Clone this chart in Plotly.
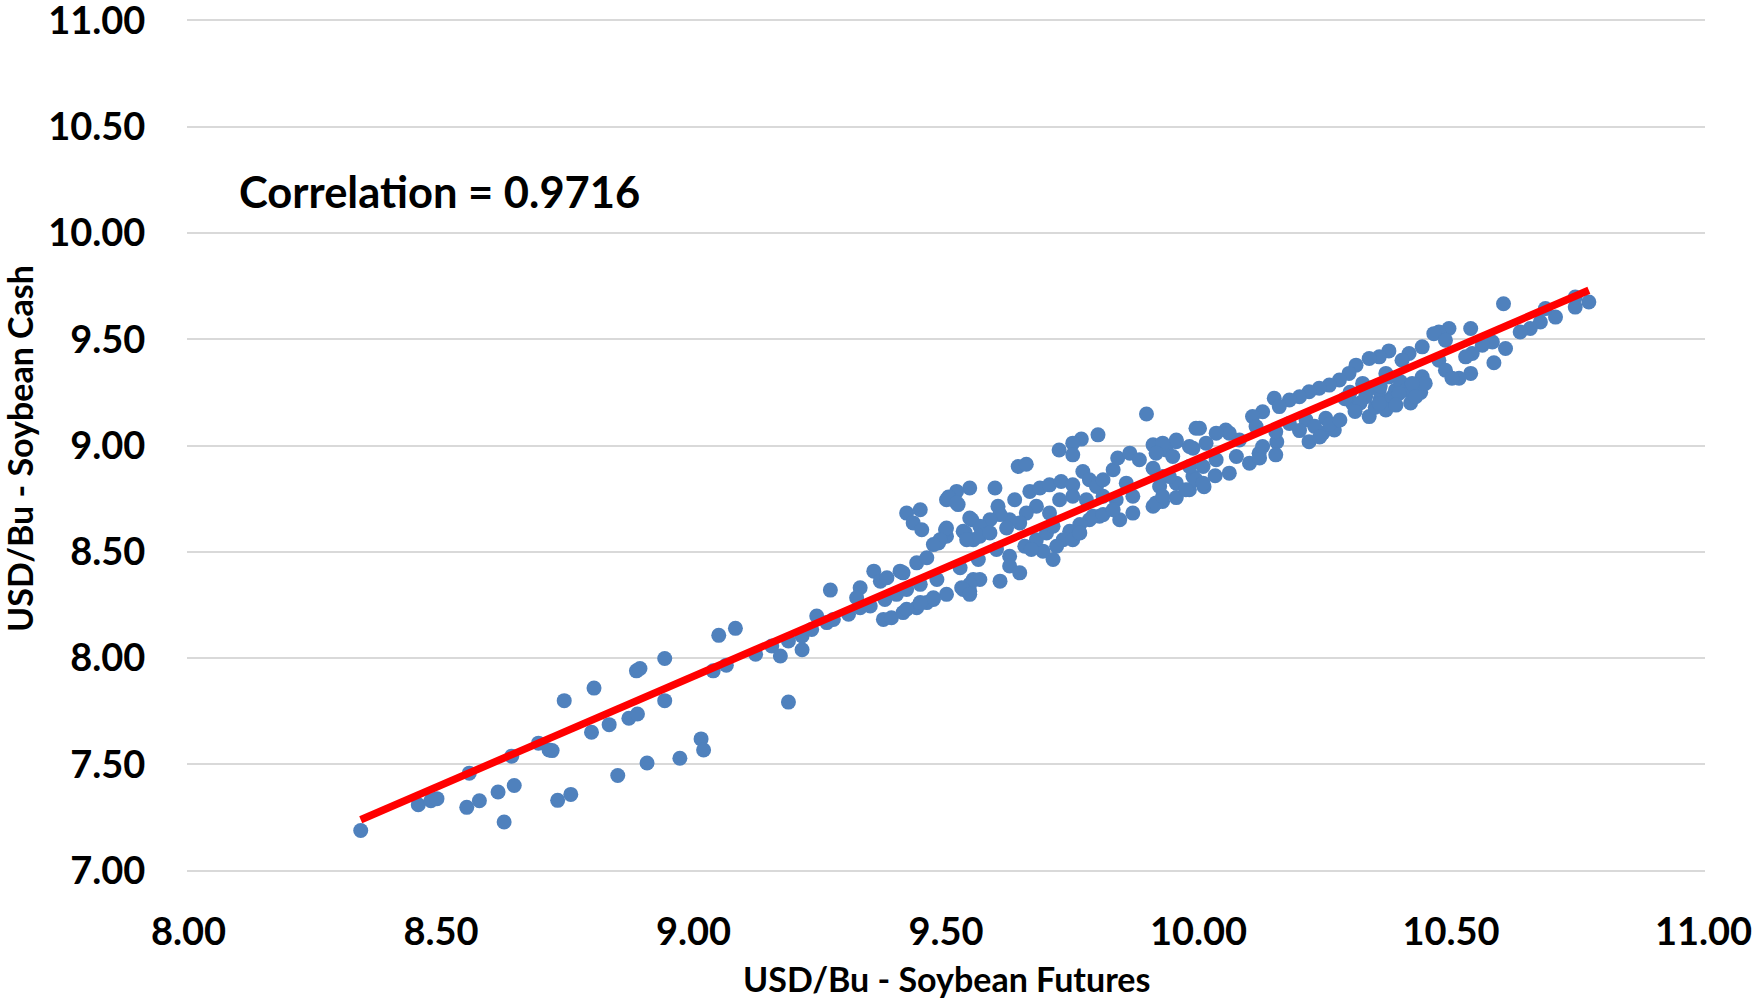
import numpy as np
import plotly.graph_objects as go

# USD/Bu - Soybean Futures (x) and Soybean Cash (y)
futures = [
    8.341, 8.455, 8.480, 8.492, 8.551, 8.556, 8.576, 8.613, 8.625, 8.640, 8.645, 8.693, 8.714, 8.720,
    8.731, 8.744, 8.757, 8.798, 8.803, 8.833, 8.850, 8.872, 8.889, 8.887, 8.894, 8.908, 8.943, 8.943,
    8.973, 9.015, 9.020, 9.039, 9.050,
    9.083, 9.065, 9.123, 9.155, 9.172, 9.188, 9.188, 9.215, 9.215, 9.234, 9.244, 9.264, 9.277, 9.271,
    9.307, 9.330, 9.330, 9.323, 9.350, 9.357, 9.370, 9.379, 9.383, 9.376, 9.392, 9.409, 9.402, 9.415,
    9.422, 9.442, 9.449, 9.462, 9.442, 9.462, 9.475, 9.482, 9.501, 9.485, 9.501, 9.499, 9.528, 9.531,
    9.547, 9.554, 9.538, 9.551, 9.554, 9.422, 9.449, 9.435, 9.452, 9.501, 9.524,
    9.897, 9.801, 9.768, 9.751, 9.724, 9.751, 9.643, 9.659, 9.597, 9.547, 9.521, 9.505, 9.521, 9.603,
    9.636, 9.666, 9.686, 9.705, 9.728, 9.751, 9.771, 9.784, 9.798, 9.811, 9.831, 9.840, 9.864, 9.883,
    9.910, 9.936, 9.956, 9.989, 9.995, 9.910, 9.929, 9.956, 9.982, 9.989, 9.837, 9.870, 9.857, 9.870,
    9.910, 9.929, 9.844, 9.804, 9.784, 9.765, 9.745, 9.732, 9.719, 9.712, 9.692, 9.679, 9.699, 9.712,
    9.705, 9.679, 9.659, 9.646, 9.626, 9.607, 9.587, 9.567, 9.547, 9.534, 9.541, 9.567, 9.587, 9.620,
    9.501, 9.488, 9.475, 9.415, 9.564, 9.600, 9.626, 9.626, 9.646, 9.656, 9.669, 9.607, 9.567, 9.547,
    9.534, 9.547, 9.475, 9.449, 9.422, 9.751, 9.765, 9.791, 9.811, 9.831, 9.778, 9.811, 9.751, 9.725,
    9.956, 10.011, 10.033, 10.120, 10.155,
    10.377, 10.358, 10.338, 10.312, 10.298, 10.279, 10.259, 10.239, 10.219, 10.200, 10.180, 10.150,
    10.160, 10.127, 10.107, 10.114, 10.153, 10.180, 10.213, 10.219, 10.252, 10.246, 10.269, 10.305,
    10.331, 10.338, 10.384, 10.358, 10.325, 10.377, 10.054, 10.081, 10.061, 10.035, 10.002, 10.015,
    9.982, 9.956, 9.929, 9.916, 9.949, 9.982, 9.995, 9.975, 10.009, 9.942, 9.923, 9.916, 9.929,
    10.035, 10.061, 10.075, 10.101, 10.121, 10.153, 10.127, 10.009,
    10.300, 10.320, 10.350, 10.360, 10.340, 10.290, 10.310, 10.390,
    10.400, 10.410, 10.380, 10.420, 10.360, 10.440,
    10.200, 10.230, 10.240, 10.260, 10.280,
    10.773, 10.746, 10.746, 10.707, 10.687, 10.677, 10.657, 10.637, 10.604, 10.608, 10.585, 10.582,
    10.562, 10.539, 10.542, 10.529, 10.539, 10.516, 10.496, 10.476, 10.466, 10.489, 10.443, 10.417,
    10.403, 10.476, 10.489, 10.502, 10.443, 10.449, 10.423, 10.430, 10.397, 10.371, 10.371, 10.391,
    10.358,
]
cash = [
    7.189, 7.310, 7.329, 7.339, 7.298, 7.459, 7.329, 7.370, 7.229, 7.539, 7.401, 7.600, 7.568, 7.565,
    7.331, 7.800, 7.359, 7.651, 7.859, 7.687, 7.448, 7.717, 7.737, 7.940, 7.951, 7.507, 7.998, 7.800,
    7.529, 7.620, 7.568, 7.940, 8.107,
    8.140, 7.967, 8.018, 8.057, 8.010, 7.793, 8.081, 8.039, 8.104, 8.135, 8.198, 8.167, 8.182, 8.320,
    8.206, 8.237, 8.331, 8.284, 8.245, 8.409, 8.362, 8.276, 8.378, 8.182, 8.190, 8.409, 8.300, 8.214,
    8.323, 8.237, 8.347, 8.261, 8.448, 8.472, 8.276, 8.370, 8.300, 8.542, 8.573, 8.604, 8.425, 8.331,
    8.315, 8.370, 8.589, 8.651, 8.557, 8.682, 8.698, 8.636, 8.604, 8.745, 8.722,
    9.148, 9.050, 9.030, 9.011, 8.979, 8.956, 8.901, 8.912, 8.800, 8.800, 8.784, 8.758, 8.730, 8.714,
    8.745, 8.784, 8.800, 8.815, 8.831, 8.815, 8.878, 8.839, 8.807, 8.839, 8.886, 8.941, 8.964, 8.933,
    9.003, 8.979, 9.018, 8.987, 9.081, 8.893, 8.854, 8.823, 8.792, 8.854, 8.745, 8.761, 8.823, 8.682,
    8.714, 8.737, 8.651, 8.667, 8.651, 8.628, 8.597, 8.557, 8.526, 8.464, 8.503, 8.557, 8.589, 8.620,
    8.682, 8.714, 8.682, 8.636, 8.651, 8.675, 8.651, 8.620, 8.659, 8.597, 8.557, 8.573, 8.589, 8.612,
    8.612, 8.557, 8.534, 8.401, 8.464, 8.511, 8.479, 8.433, 8.401, 8.526, 8.511, 8.362, 8.370, 8.347,
    8.323, 8.300, 8.284, 8.261, 8.230, 8.557, 8.589, 8.667, 8.675, 8.698, 8.745, 8.761, 8.761, 8.745,
    8.755, 8.806, 8.858, 8.963, 9.017,
    9.445, 9.417, 9.409, 9.378, 9.339, 9.308, 9.284, 9.269, 9.253, 9.229, 9.214, 9.222,
    9.183, 9.159, 9.136, 9.089, 9.065, 9.104, 9.120, 9.018, 9.128, 9.058, 9.073, 9.198,
    9.229, 9.136, 9.229, 9.261, 9.292, 9.323, 9.073, 9.026, 9.058, 9.058, 9.081, 9.011,
    8.995, 9.026, 9.011, 8.964, 8.948, 8.901, 8.839, 8.792, 8.823, 8.854, 8.807, 8.730, 8.761,
    8.933, 8.870, 8.948, 8.917, 8.941, 8.956, 8.995, 8.901,
    9.250, 9.200, 9.180, 9.220, 9.270, 9.220, 9.160, 9.260,
    9.300, 9.260, 9.210, 9.200, 9.280, 9.250,
    9.070, 9.090, 9.040, 9.100, 9.120,
    9.675, 9.651, 9.698, 9.604, 9.644, 9.581, 9.550, 9.534, 9.667, 9.456, 9.389, 9.487,
    9.472, 9.550, 9.433, 9.417, 9.339, 9.316, 9.550, 9.534, 9.526, 9.495, 9.464, 9.433,
    9.401, 9.401, 9.354, 9.316, 9.323, 9.292, 9.292, 9.229, 9.245, 9.339, 9.167, 9.190,
    9.198,
]

x_ticks = [8.0, 8.5, 9.0, 9.5, 10.0, 10.5, 11.0]
y_ticks = [7.0, 7.5, 8.0, 8.5, 9.0, 9.5, 10.0, 10.5, 11.0]
x_title = "USD/Bu - Soybean Futures"
y_title = "USD/Bu - Soybean Cash"
corr_label = "Correlation = 0.9716"

xa = np.array(futures)
ya = np.array(cash)
slope, intercept = np.polyfit(xa, ya, 1)
tx = np.array([xa.min(), xa.max()])
ty = slope * tx + intercept

FONT = "Lato"

fig = go.Figure()
fig.add_trace(go.Scatter(
    x=futures, y=cash, mode="markers",
    marker=dict(color="#4F81BD", size=15, line=dict(width=0)),
    showlegend=False, hoverinfo="skip",
))
fig.add_trace(go.Scatter(
    x=tx, y=ty, mode="lines",
    line=dict(color="#FF0000", width=7.5),
    showlegend=False, hoverinfo="skip",
))

fig.update_layout(
    width=1756, height=1000,
    margin=dict(l=187, r=51, t=19, b=128, autoexpand=False),
    paper_bgcolor="white", plot_bgcolor="white",
    font=dict(family=FONT, color="black"),
    xaxis=dict(
        range=[7.997, 11.003], tickvals=x_ticks, tickformat=".2f",
        showgrid=False, zeroline=False, showline=False, automargin=False,
        ticks="outside", ticklen=0, ticklabelstandoff=26,
        ticklabeloverflow="allow",
        tickfont=dict(family=FONT, size=38, color="black", weight="bold"),
    ),
    yaxis=dict(
        range=[6.994, 11.006], tickvals=y_ticks, tickformat=".2f",
        showgrid=True, gridcolor="#D9D9D9", gridwidth=2,
        zeroline=False, showline=False, automargin=False,
        ticks="outside", ticklen=0, ticklabelstandoff=33,
        ticklabeloverflow="allow",
        tickfont=dict(family=FONT, size=38, color="black", weight="bold"),
    ),
    annotations=[
        dict(text=corr_label, xref="paper", yref="paper", x=0.0329, y=0.798,
             xanchor="left", yanchor="middle", showarrow=False,
             font=dict(family=FONT, size=43.5, color="black", weight="bold")),
        dict(text=x_title, xref="paper", yref="paper", x=0.5, y=-0.1243,
             xanchor="center", yanchor="middle", showarrow=False,
             font=dict(family=FONT, size=34, color="black", weight="bold")),
        dict(text=y_title, xref="paper", yref="paper", x=-0.1107, y=0.497,
             xanchor="center", yanchor="middle", showarrow=False, textangle=-90,
             font=dict(family=FONT, size=34, color="black", weight="bold")),
    ],
)

fig.write_html("out.html", config={"displayModeBar": False},
               post_script="document.body.style.margin='0';")
